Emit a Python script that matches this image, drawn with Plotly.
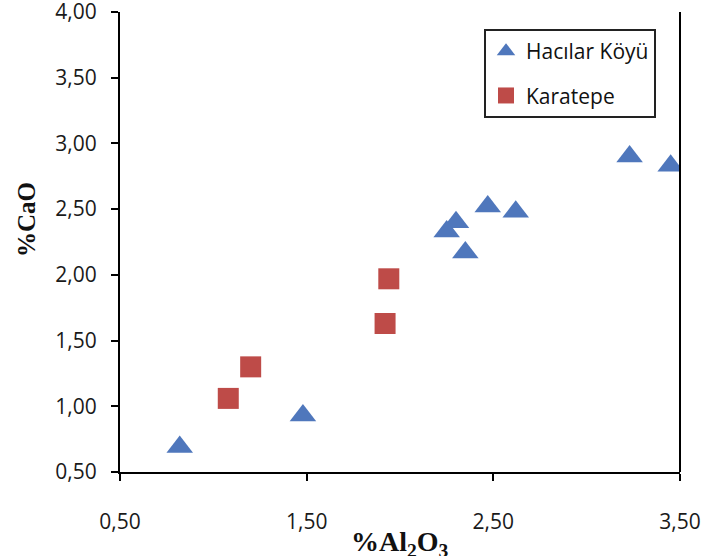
import plotly.graph_objects as go

# Sample compositions (wt %)
hacilar_al2o3 = [0.82, 1.48, 2.25, 2.30, 2.35, 2.47, 2.62, 3.23, 3.45]
hacilar_cao = [0.69, 0.93, 2.33, 2.40, 2.17, 2.52, 2.48, 2.90, 2.83]

karatepe_al2o3 = [1.08, 1.20, 1.92, 1.94]
karatepe_cao = [1.06, 1.30, 1.63, 1.97]

x_ticks = [0.5, 1.5, 2.5, 3.5]
y_ticks = [0.5, 1.0, 1.5, 2.0, 2.5, 3.0, 3.5, 4.0]

BLUE = "#4F77BC"
RED = "#BE4B48"
TICK_FONT = dict(family="Open Sans", size=21, color="#1a1a1a")

fig = go.Figure()
fig.add_trace(go.Scatter(
    x=hacilar_al2o3, y=hacilar_cao, mode="markers", name="Hacılar Köyü",
    legendgroup="a",
    marker=dict(symbol="triangle-up", size=23, color=BLUE,
                line=dict(width=0)),
))
fig.add_trace(go.Scatter(
    x=karatepe_al2o3, y=karatepe_cao, mode="markers", name="Karatepe",
    legendgroup="b",
    marker=dict(symbol="square", size=21, color=RED, line=dict(width=0)),
))

axis_common = dict(
    showgrid=False, zeroline=False, showline=True, linecolor="black",
    linewidth=2, ticks="outside", ticklen=7, tickwidth=2, tickcolor="black",
    tickfont=TICK_FONT, tickformat=".2f", automargin=False,
    ticklabeloverflow="allow",
)

fig.update_xaxes(range=[0.5, 3.5], tickvals=x_ticks, ticklabelstandoff=23,
                 **axis_common)
fig.update_yaxes(range=[0.5, 4.0], tickvals=y_ticks, ticklabelstandoff=10,
                 **axis_common)

# right frame edge
fig.add_shape(type="line", xref="paper", yref="paper", x0=1, x1=1, y0=0,
              y1=1, line=dict(color="black", width=2))

fig.add_annotation(
    text="<b>%CaO</b>", xref="paper", yref="paper", x=-0.166, y=0.548,
    xanchor="center", yanchor="middle", textangle=-90, showarrow=False,
    font=dict(family="Liberation Serif", size=25, color="#111"),
)
fig.add_annotation(
    text="<b>%Al<sub>2</sub>O<sub>3</sub></b>", xref="paper", yref="paper",
    x=0.5, y=(472 - 524) / 460, xanchor="center", yanchor="top",
    showarrow=False,
    font=dict(family="Liberation Serif", size=28, color="#111"),
)

fig.update_layout(
    template="none",
    width=702, height=556,
    margin=dict(l=120, r=22, t=12, b=84),
    paper_bgcolor="white", plot_bgcolor="white",
    separators=",.",
    showlegend=True,
    legend=dict(
        x=(484 - 120) / 560, y=0.963, xanchor="left", yanchor="top",
        bgcolor="white", bordercolor="#222", borderwidth=2,
        font=dict(family="Open Sans", size=21, color="#111"),
        tracegroupgap=14, traceorder="grouped",
    ),
)

fig.write_html("out.html")
